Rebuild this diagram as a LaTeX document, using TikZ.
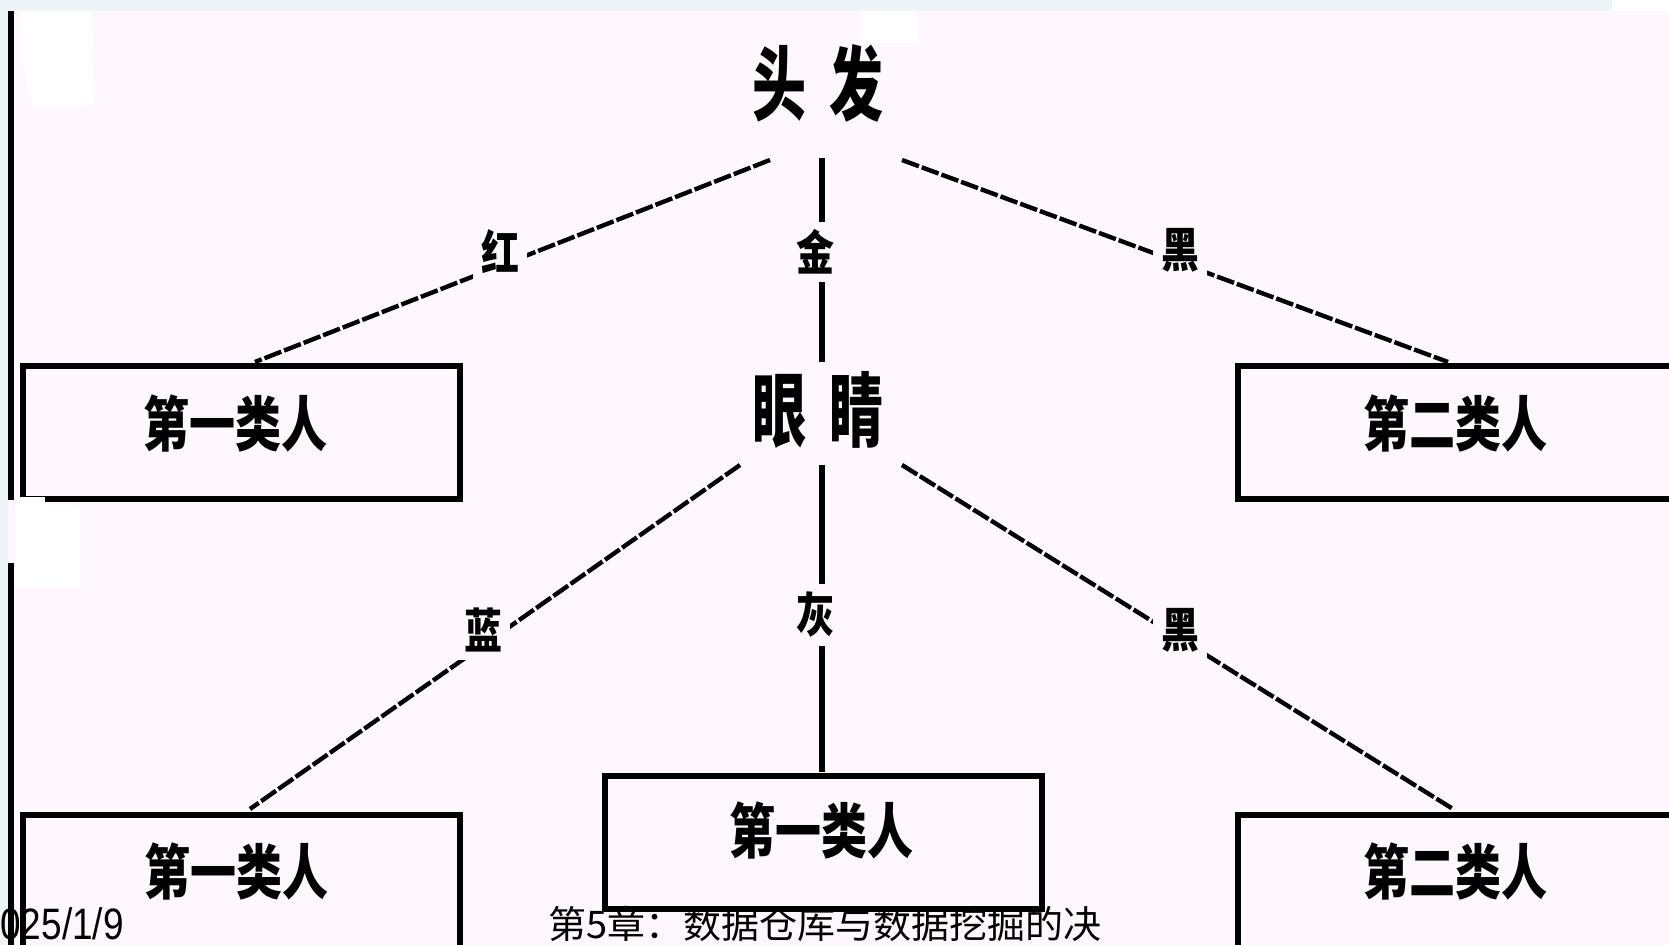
\documentclass[tikz,border=0pt]{standalone}
\usepackage{fontspec}
\setmainfont{Liberation Sans}
\newfontfamily\cjk{Noto Sans CJK SC}
\definecolor{bg}{HTML}{FEF8FE}
\definecolor{strip}{HTML}{EFF4F8}
\begin{document}
\begin{tikzpicture}[x=0.5pt,y=-0.5pt,
  every node/.style={inner sep=0pt},
  box/.style={draw=black, line width=3pt, minimum width=218.5pt, minimum height=66.5pt, fill=bg},
  big/.style={font=\cjk\bfseries\fontsize{27}{27}\selectfont},
  cls/.style={font=\cjk\bfseries\fontsize{23}{23}\selectfont},
  lab/.style={font=\cjk\bfseries\fontsize{19}{19}\selectfont, fill=bg, inner sep=4pt},
  conn/.style={line width=2.2pt, dash pattern=on 9pt off 1.5pt},
  vconn/.style={line width=2.6pt}]
\useasboundingbox (0,0) rectangle (1669,945);
\clip (0,0) rectangle (1669,945);
% background
\fill[bg] (0,0) rectangle (1669,945);
\fill[strip] (0,0) rectangle (1612,11);
\fill[white] (1612,0) rectangle (1669,11);
\fill[strip] (0,0) rectangle (8,945);
\fill[white] (20,11) -- (92,11) -- (94,106) -- (32,106) -- (22,60) -- cycle;
\fill[white] (862,11) rectangle (918,43);
% left rule
\draw[line width=3pt] (11,11) -- (11,500);
\draw[line width=3pt] (11,563) -- (11,945);

% boxes
\node[box] (c1) at (241.5,432.5) {};
\node[box] (c2) at (1456.5,432.5) {};
\node[box] (c3) at (241.5,881.5) {};
\node[box] (c4) at (823,842.5) {};
\node[box] (c5) at (1456.5,881.5) {};
\fill[white] (15,497) rectangle (45,588);
\fill[white] (45,505) rectangle (80,588);

% class texts
\node[cls] (t1) at (235,423) {\scalebox{1}[1.3]{第一类人}};
\node[cls] (t2) at (1455,423) {\scalebox{1}[1.3]{第二类人}};
\node[cls] (t3) at (236,871) {\scalebox{1}[1.3]{第一类人}};
\node[cls] (t4) at (821,830) {\scalebox{1}[1.3]{第一类人}};
\node[cls] (t5) at (1455,871) {\scalebox{1}[1.3]{第二类人}};

% attribute nodes
\node[big] (hair) at (818,83) {\scalebox{1}[1.5]{头\hspace{12pt}发}};
\node[big] (eye) at (818,410) {\scalebox{1}[1.5]{眼\hspace{12pt}睛}};

% connector ends
\coordinate (hL) at (770,160);
\coordinate (hM) at (822,158);
\coordinate (hR) at (902,160);
\coordinate (eL) at (740,465);
\coordinate (eM) at (822,465);
\coordinate (eR) at (902,465);
\coordinate (c1e) at (255,362);
\coordinate (eyeTop) at (822,362);
\coordinate (c2e) at (1448,362);
\coordinate (c3e) at (250,809);
\coordinate (c4e) at (822,772);
\coordinate (c5e) at (1453,809);

\draw[conn] (hL) -- (c1e);
\draw[vconn] (hM) -- (eyeTop);
\draw[conn] (hR) -- (c2e);
\draw[conn] (eL) -- (c3e);
\draw[vconn] (eM) -- (c4e);
\draw[conn] (eR) -- (c5e);

% branch labels
\node[lab] (b1) at (500,252) {\scalebox{1}[1.25]{红}};
\node[lab] (b2) at (815,252) {\scalebox{1}[1.25]{金}};
\node[lab] (b3) at (1180,250) {\scalebox{1}[1.25]{黑}};
\node[lab] (b4) at (483,630) {\scalebox{1}[1.25]{蓝}};
\node[lab] (b5) at (815,615) {\scalebox{1}[1.25]{灰}};
\node[lab] (b6) at (1180,630) {\scalebox{1}[1.25]{黑}};

% footer
\node[anchor=base west] (date) at (0,939) {\fontsize{22}{22}\selectfont\scalebox{0.84}[1]{025/1/9}};
\node[anchor=base west] (chap) at (548,938) {\cjk\fontsize{19}{19}\selectfont 第5章：数据仓库与数据挖掘的决};
\end{tikzpicture}
\end{document}
